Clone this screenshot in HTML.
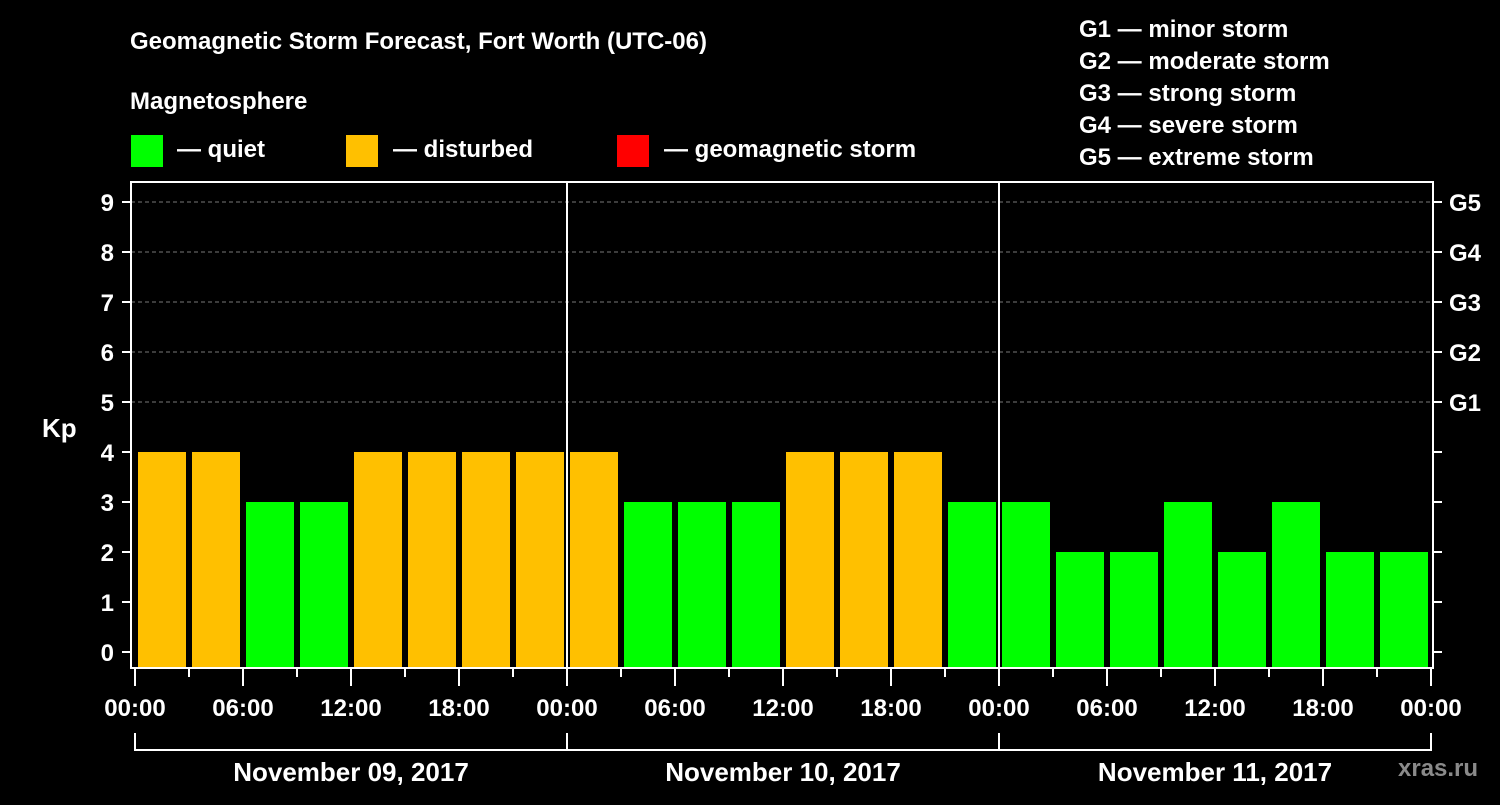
<!DOCTYPE html>
<html><head><meta charset="utf-8"><style>
body{margin:0;background:#000;width:1500px;height:800px;overflow:hidden}
svg text{font-family:"Liberation Sans",sans-serif;font-weight:bold;fill:#fff}
</style></head><body>
<svg id="c" width="1500" height="800">
<text x="130" y="49" font-size="24">Geomagnetic Storm Forecast, Fort Worth (UTC-06)</text>
<text x="130" y="109" font-size="24">Magnetosphere</text>
<g>
<rect x="131" y="135" width="32" height="32" fill="#00ff00"/>
<text x="177" y="157" font-size="24">— quiet</text>
<rect x="346" y="135" width="32" height="32" fill="#ffc000"/>
<text x="393" y="157" font-size="24">— disturbed</text>
<rect x="617" y="135" width="32" height="32" fill="#ff0000"/>
<text x="664" y="157" font-size="24">— geomagnetic storm</text>
</g>
<g font-size="24">
<text x="1079" y="37">G1 — minor storm</text>
<text x="1079" y="69">G2 — moderate storm</text>
<text x="1079" y="101">G3 — strong storm</text>
<text x="1079" y="133">G4 — severe storm</text>
<text x="1079" y="165">G5 — extreme storm</text>
</g>
<text x="42" y="437" font-size="26">Kp</text>
<text x="1398" y="776" font-size="24" fill="#888" style="fill:#8a8a8a">xras.ru</text>
<g id="plot"></g>
</svg>
<script>
const kpValues=[4,4,3,3,4,4,4,4, 4,3,3,3,4,4,4,3, 3,2,2,3,2,3,2,2];
const yTicks=[0,1,2,3,4,5,6,7,8,9];
const gLabels=["G1","G2","G3","G4","G5"];
const timeLabels=["00:00","06:00","12:00","18:00"];
const dayLabels=["November 09, 2017","November 10, 2017","November 11, 2017"];
const NS="http://www.w3.org/2000/svg";
const g=document.getElementById('plot');
const L=131,R=1433,T=182,B=668,X0=135,slotW=54;
const yS=v=>652-50*v;
const xS=slot=>X0+slot*slotW;
function mk(tag,attrs){const e=document.createElementNS(NS,tag);for(const k in attrs)e.setAttribute(k,attrs[k]);g.appendChild(e);return e;}
// grid dashed lines
yTicks.filter(v=>v>=5).forEach(v=>{
 const l=mk('line',{x1:L,x2:R,y1:yS(v),y2:yS(v),stroke:'#777','stroke-dasharray':'4,3','stroke-width':1});
 
 
});
// bars
kpValues.forEach((v,i)=>{
 const col=v>=5?'#ff0000':(v>=4?'#ffc000':'#00ff00');
 const r=mk('rect',{x:xS(i)+3,y:yS(v),width:48,height:B-yS(v),fill:col});
 
 
});
// day separators
for(let d=1;d<3;d++){
 const l=mk('line',{x1:xS(d*8),x2:xS(d*8),y1:T,y2:B,stroke:'#fff','stroke-width':2});
 
 
}
// frame
const fr=mk('rect',{x:L,y:T,width:R-L,height:B-T,fill:'none',stroke:'#fff','stroke-width':2});


// y ticks
yTicks.forEach(v=>{
 const t=mk('line',{x1:122,x2:L,y1:yS(v),y2:yS(v),stroke:'#fff','stroke-width':2});
 
 
 const t2=mk('line',{x1:R,x2:1442,y1:yS(v),y2:yS(v),stroke:'#fff','stroke-width':2});
 
 
 const tx=mk('text',{x:114,y:yS(v)+9,'font-size':24,'text-anchor':'end'});
 tx.textContent=v;
 
 
});
gLabels.forEach((s,i)=>{
 const tx=mk('text',{x:1449,y:yS(5+i)+9,'font-size':24});
 tx.textContent=s;
 
 
});
// x ticks
for(let s=0;s<=24;s++){
 const major=s%2===0;
 const t=mk('line',{x1:xS(s),x2:xS(s),y1:B+1,y2:major?686:677,stroke:'#fff','stroke-width':2});
 
 
 if(major){
  const tx=mk('text',{x:xS(s),y:716,'font-size':24,'text-anchor':'middle'});
  tx.textContent=timeLabels[(s/2)%4];
  
  
 }
}
// day brackets
dayLabels.forEach((d,i)=>{
 const p=mk('path',{d:`M${xS(i*8)},733V750H${xS(i*8+8)}V733`,fill:'none',stroke:'#fff','stroke-width':2});
 
 
 const tx=mk('text',{x:xS(i*8+4),y:781,'font-size':26,'text-anchor':'middle'});
 tx.textContent=d;
 
 
});
</script>
</body></html>
